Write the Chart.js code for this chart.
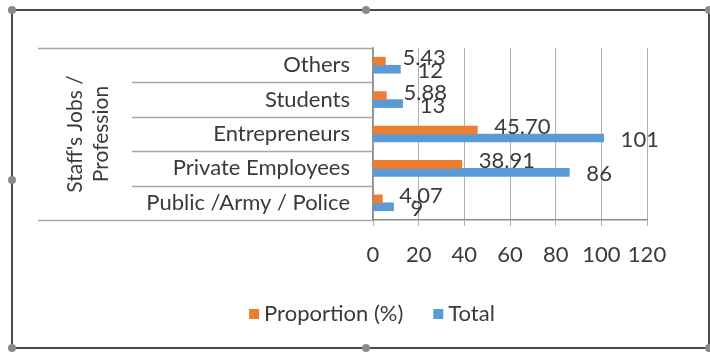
<!DOCTYPE html>
<html>
<head>
<meta charset="utf-8">
<script src="https://cdn.jsdelivr.net/npm/chart.js@4"></script>
<style>
html,body{margin:0;padding:0;background:#fff;}
#wrap{position:relative;width:710px;height:354px;}
</style>
</head>
<body>
<div id="wrap"><canvas id="c" width="710" height="354"></canvas></div>
<script>
const categories = ['Others', 'Students', 'Entrepreneurs', 'Private Employees', 'Public /Army / Police'];
const proportion = [5.43, 5.88, 45.70, 38.91, 4.07];
const total = [12, 13, 101, 86, 9];
const proportionLabels = ['5.43', '5.88', '45.70', '38.91', '4.07'];
const xTicks = [0, 20, 40, 60, 80, 100, 120];
const axisTitle = ["Staff's Jobs /", 'Profession'];

const FONT = 'Lato, "Open Sans", sans-serif';
const ORANGE = '#ED7D31';
const BLUE = '#5B9BD5';
const TEXT = '#3a3a3a';

const framePlugin = {
  id: 'frame',
  beforeDraw(chart) {
    const ctx = chart.ctx;
    ctx.save();
    ctx.fillStyle = '#fff';
    ctx.fillRect(0, 0, chart.width, chart.height);
    ctx.strokeStyle = '#4a4a4a';
    ctx.lineWidth = 2;
    ctx.strokeRect(12, 10, 697, 338);
    ctx.fillStyle = '#8a8a8a';
    const handles = [[12,10],[366,10],[12,180],[12,348],[366,348],[709,10],[709,348]];
    handles.forEach(([x,y]) => {
      ctx.beginPath();
      ctx.arc(x, y, 4, 0, Math.PI*2);
      ctx.fill();
    });
    ctx.restore();
  },
  afterDraw(chart) {
    const y = chart.scales.y;
    const ca = chart.chartArea;
    const ctx = chart.ctx;
    ctx.save();
    ctx.strokeStyle = '#a6a6a6';
    ctx.lineWidth = 1.5;
    const n = chart.data.labels.length;
    for (let i = 0; i <= n; i++) {
      let py;
      if (i === 0) py = y.top;
      else if (i === n) py = y.bottom;
      else py = (y.getPixelForTick(i-1) + y.getPixelForTick(i)) / 2;
      const x0 = (i === 0 || i === n) ? 38 : 132;
      ctx.beginPath();
      ctx.moveTo(x0, Math.round(py) + 0.5);
      ctx.lineTo(ca.left, Math.round(py) + 0.5);
      ctx.stroke();
    }
    // custom legend
    ctx.font = '22px ' + FONT;
    ctx.textBaseline = 'middle';
    ctx.textAlign = 'left';
    const ly = 314;
    const items = chart.data.datasets.map(d => ({ text: d.label, color: d.backgroundColor }));
    const box = 10, gapText = 5, gapItem = 30;
    let totalW = 0;
    items.forEach((it, i) => {
      it.w = box + gapText + ctx.measureText(it.text).width;
      totalW += it.w + (i ? gapItem : 0);
    });
    let lx = 372 - totalW / 2;
    items.forEach(it => {
      ctx.fillStyle = it.color;
      ctx.fillRect(lx, ly - box / 2, box, box);
      ctx.fillStyle = TEXT;
      ctx.fillText(it.text, lx + box + gapText, ly);
      lx += it.w + gapItem;
    });
    ctx.restore();
  }
};

const valueLabels = {
  id: 'valueLabels',
  afterDatasetsDraw(chart) {
    const ctx = chart.ctx;
    ctx.save();
    ctx.font = '22px ' + FONT;
    ctx.fillStyle = TEXT;
    ctx.textAlign = 'left';
    ctx.textBaseline = 'middle';
    chart.data.datasets.forEach((ds, di) => {
      const meta = chart.getDatasetMeta(di);
      meta.data.forEach((el, i) => {
        const txt = di === 0 ? proportionLabels[i] : String(ds.data[i]);
        const dy = di === 0 ? -3 : 2;
        ctx.fillText(txt, el.x + 17, el.y + dy);
      });
    });
    ctx.restore();
  }
};

new Chart(document.getElementById('c'), {
  type: 'bar',
  data: {
    labels: categories,
    datasets: [
      { label: 'Proportion (%)', data: proportion, backgroundColor: ORANGE, barThickness: 8 },
      { label: 'Total', data: total, backgroundColor: BLUE, barThickness: 8 }
    ]
  },
  options: {
    indexAxis: 'y',
    responsive: false,
    animation: false,
    devicePixelRatio: 1,
    layout: { padding: { left: 63, right: 63, top: 48, bottom: 0 } },
    plugins: {
      legend: { display: false },
      tooltip: { enabled: false }
    },
    scales: {
      x: {
        min: 0, max: 120,
        afterBuildTicks(scale) { scale.ticks = xTicks.map(v => ({ value: v })); },
        afterFit(scale) { scale.height = 134; },
        grid: { color: '#b0b0b0', lineWidth: 1, tickLength: 6, drawTicks: true },
        border: { color: '#8c8c8c', width: 1.5 },
        ticks: { font: { family: FONT, size: 22 }, color: TEXT, padding: 16 }
      },
      y: {
        afterFit(scale) { scale.width = 373 - 63; },
        grid: { display: false },
        border: { color: '#8c8c8c', width: 1.5 },
        ticks: { font: { family: FONT, size: 22 }, color: TEXT, padding: 15, crossAlign: 'near' },
        title: {
          display: true,
          text: axisTitle,
          font: { family: FONT, size: 21 },
          color: TEXT,
          padding: { top: 0, bottom: 0 }
        }
      }
    }
  },
  plugins: [framePlugin, valueLabels]
});
</script>
</body>
</html>
